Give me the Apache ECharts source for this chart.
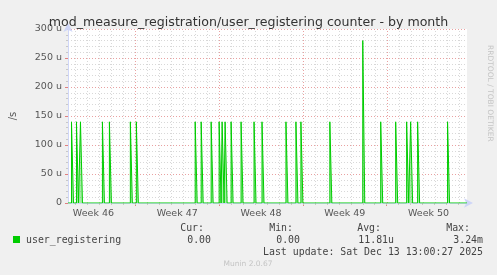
<!DOCTYPE html>
<html>
<head>
<meta charset="utf-8">
<script src="https://cdn.jsdelivr.net/npm/echarts@6/dist/echarts.min.js"></script>
<style>
html,body{margin:0;padding:0;background:#f0f0f0;}
#c{width:497px;height:275px;}
</style>
</head>
<body>
<div id="c"></div>
<script>
// x unit: hours since Monday 00:00 of week 46
const xMin = 33, xMax = 833;
const weekStarts = [168, 336, 504, 672];
const weekCenters = [84, 252, 420, 588, 756];
const weekLabels = ['Week 46', 'Week 47', 'Week 48', 'Week 49', 'Week 50'];
// spikes (start hour, duration hours, value in micro/s)
const spikeStart = [40, 50, 58, 102, 116, 158, 170, 288, 300, 320, 336, 342, 348, 360, 380, 406, 422, 470, 490, 500, 558, 624, 660, 690, 712, 720, 734, 794];
const spikeDur   = [4, 4, 4, 4, 4, 4, 4, 4, 4, 4, 4, 4, 4, 4, 4, 4, 4, 4, 4, 4, 4, 4, 4, 4, 4, 4, 4, 4];
const spikeVal   = [140, 140, 140, 140, 140, 140, 140, 140, 140, 140, 140, 140, 140, 140, 140, 140, 140, 140, 140, 140, 140, 280, 140, 140, 140, 140, 140, 140];
const legendName = 'user_registering';
const stats = { cur: '0.00', min: '0.00', avg: '11.81u', max: '3.24m' };

const lineData = [[xMin, 0]];
for (let i = 0; i < spikeStart.length; i++) {
  const s = spikeStart[i], e = s + spikeDur[i], v = spikeVal[i];
  lineData.push([s, 0], [s, v], [e, v], [e, 0]);
}
lineData.push([xMax, 0]);

const dayLines = [];
for (let h = 48; h < xMax; h += 24) dayLines.push(h);

const chart = echarts.init(document.getElementById('c'), null, { renderer: 'canvas' });
const mono = "'DejaVu Sans Mono', monospace";
const sans = "'DejaVu Sans', sans-serif";
const axisColor = '#cfd6f8';
const majorGrid = 'rgba(225,130,130,0.75)';
const minorGrid = '#d8d8d8';

chart.setOption({
  backgroundColor: '#f0f0f0',
  animation: false,
  title: {
    text: 'mod_measure_registration/user_registering counter - by month',
    left: 'center', top: 11,
    textStyle: { fontFamily: sans, fontSize: 12.6, fontWeight: 'normal', color: '#333' }
  },
  grid: { left: 67, right: 30, top: 29, bottom: 72, show: true, backgroundColor: '#ffffff', borderWidth: 0 },
  xAxis: [{
    type: 'value', min: xMin, max: xMax,
    axisLine: { show: true, lineStyle: { color: axisColor, width: 1 }, symbol: ['none', 'arrow'], symbolSize: [7, 9], symbolOffset: [0, 6] },
    axisTick: { show: true, customValues: weekStarts, length: 3, inside: false, lineStyle: { color: '#e08080' } },
    axisLabel: { customValues: weekCenters, formatter: v => weekLabels[weekCenters.indexOf(v)] || '', fontFamily: sans, fontSize: 9.5, color: '#555', margin: 6 },
    splitLine: { show: false }
  }, {
    type: 'value', min: xMin, max: xMax, position: 'bottom',
    axisLine: { show: false },
    axisTick: { show: true, customValues: dayLines, length: 2, lineStyle: { color: '#c8c8c8' } },
    axisLabel: { show: false },
    splitLine: { show: false }
  }],
  yAxis: {
    type: 'value', min: 0, max: 300, interval: 50,
    axisLine: { show: true, lineStyle: { color: axisColor, width: 1 }, symbol: ['none', 'arrow'], symbolSize: [7, 9], symbolOffset: [0, 6] },
    axisTick: { show: true, length: 3, lineStyle: { color: '#e08080' } },
    minorTick: { show: true, splitNumber: 5, length: 2, lineStyle: { color: '#c8c8c8' } },
    axisLabel: { formatter: v => (v === 0 ? '0' : v + ' u'), fontFamily: sans, fontSize: 9.5, color: '#555', margin: 6 },
    splitLine: { show: true, lineStyle: { color: majorGrid, type: [1, 2], width: 1 } },
    minorSplitLine: { show: true, lineStyle: { color: minorGrid, type: [1, 2], width: 1 } },
    name: '/s', nameLocation: 'middle', nameGap: 50, nameRotate: 90,
    nameTextStyle: { fontFamily: sans, fontSize: 10, color: '#555' }
  },
  series: [{
    type: 'custom', z: 1, silent: true,
    data: dayLines,
    renderItem: function (params, api) {
      const x = api.value(0);
      const p0 = api.coord([x, 0]);
      const p1 = api.coord([x, 300]);
      const isWeek = weekStarts.indexOf(x) >= 0;
      return {
        type: 'line',
        shape: { x1: Math.round(p0[0]) + 0.5, y1: p0[1], x2: Math.round(p1[0]) + 0.5, y2: p1[1] },
        style: { stroke: isWeek ? majorGrid : minorGrid, lineWidth: 1, lineDash: [1, 2] }
      };
    },
    encode: { x: 0 }
  }, {
    name: legendName,
    type: 'line', z: 5, silent: true,
    data: lineData,
    showSymbol: false,
    lineStyle: { color: '#00cc00', width: 1 },
    areaStyle: { color: 'rgba(0,204,0,0.5)' }
  }],
  graphic: [
    { type: 'text', right: 3, top: 45, rotation: -Math.PI / 2, style: { text: 'RRDTOOL / TOBI OETIKER', fontFamily: sans, fontSize: 7.5, fill: '#c4c4c4' } },
    { type: 'rect', shape: { x: 13, y: 236, width: 7, height: 7 }, style: { fill: '#00cc00' } },
    { type: 'text', x: 26, y: 240, style: { text: legendName, fontFamily: mono, fontSize: 9.9, fill: '#444', verticalAlign: 'middle' } },
    { type: 'text', x: 204, y: 228, style: { text: 'Cur:', fontFamily: mono, fontSize: 9.9, fill: '#444', align: 'right', verticalAlign: 'middle' } },
    { type: 'text', x: 211, y: 240, style: { text: stats.cur, fontFamily: mono, fontSize: 9.9, fill: '#444', align: 'right', verticalAlign: 'middle' } },
    { type: 'text', x: 293, y: 228, style: { text: 'Min:', fontFamily: mono, fontSize: 9.9, fill: '#444', align: 'right', verticalAlign: 'middle' } },
    { type: 'text', x: 300, y: 240, style: { text: stats.min, fontFamily: mono, fontSize: 9.9, fill: '#444', align: 'right', verticalAlign: 'middle' } },
    { type: 'text', x: 381, y: 228, style: { text: 'Avg:', fontFamily: mono, fontSize: 9.9, fill: '#444', align: 'right', verticalAlign: 'middle' } },
    { type: 'text', x: 394, y: 240, style: { text: stats.avg, fontFamily: mono, fontSize: 9.9, fill: '#444', align: 'right', verticalAlign: 'middle' } },
    { type: 'text', x: 470, y: 228, style: { text: 'Max:', fontFamily: mono, fontSize: 9.9, fill: '#444', align: 'right', verticalAlign: 'middle' } },
    { type: 'text', x: 483, y: 240, style: { text: stats.max, fontFamily: mono, fontSize: 9.9, fill: '#444', align: 'right', verticalAlign: 'middle' } },
    { type: 'text', x: 483, y: 252, style: { text: 'Last update: Sat Dec 13 13:00:27 2025', fontFamily: mono, fontSize: 9.9, fill: '#444', align: 'right', verticalAlign: 'middle' } },
    { type: 'text', x: 248, y: 264, style: { text: 'Munin 2.0.67', fontFamily: sans, fontSize: 7.5, fill: '#c4c4c4', align: 'center', verticalAlign: 'middle' } }
  ]
});
</script>
</body>
</html>
